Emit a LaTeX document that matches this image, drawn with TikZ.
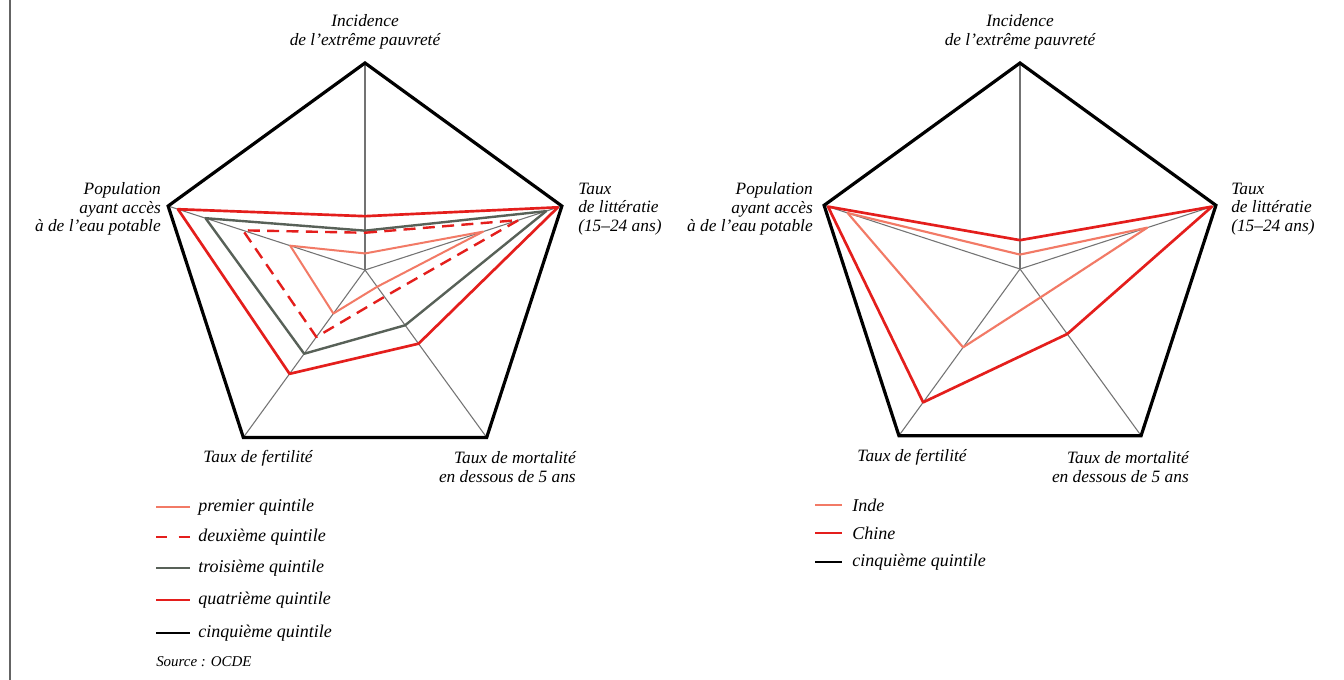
\documentclass[tikz,border=0pt]{standalone}
\usepackage{fontspec}
\setmainfont{Liberation Serif}
\usetikzlibrary{calc}
\definecolor{cred}{RGB}{228,30,28}
\definecolor{csalmon}{RGB}{242,122,102}
\definecolor{cgray}{RGB}{88,97,88}
\definecolor{caxis}{RGB}{115,115,115}
\definecolor{cframe}{RGB}{100,100,100}
\newcommand\radarset[8]{%
  \coordinate (#1A) at ($(#2)+(-90:{#3*#4})$);
  \coordinate (#1B) at ($(#2)+(-18:{#3*#5})$);
  \coordinate (#1C) at ($(#2)+(54:{#3*#6})$);
  \coordinate (#1D) at ($(#2)+(126:{#3*#7})$);
  \coordinate (#1E) at ($(#2)+(198:{#3*#8})$);
}
\newcommand\radarpoly[2]{\draw[#2] (#1A) -- (#1B) -- (#1C) -- (#1D) -- (#1E) -- cycle;}
\begin{document}
\begin{tikzpicture}[x=0.75pt,y=-0.75pt,
  lbl/.style={inner sep=0pt,font=\fontsize{13}{14}\selectfont\itshape},
  leg/.style={inner sep=0pt,anchor=west,font=\fontsize{13.5}{15}\selectfont\itshape},
  src/.style={inner sep=0pt,anchor=west,font=\fontsize{11.2}{12}\selectfont\itshape},
  axisline/.style={draw=caxis,line width=0.8pt},
  outer/.style={draw=black,line width=2.4pt,line join=miter},
  qone/.style={draw=csalmon,line width=1.5pt,line join=round},
  qtwo/.style={draw=cred,line width=1.8pt,dash pattern=on 9pt off 5.5pt,line join=round},
  qthree/.style={draw=cgray,line width=1.8pt,line join=round},
  qfour/.style={draw=cred,line width=2pt,line join=round},
  inde/.style={draw=csalmon,line width=1.6pt,line join=round},
  chine/.style={draw=cred,line width=2pt,line join=round},
  legtwo/.style={qtwo,dash pattern=on 8.5pt off 8.5pt},
]
\useasboundingbox (0,0) rectangle (1344,680);
\fill[white] (0,0) rectangle (1344,680);
% left frame line
\coordinate (ft) at (10,0);
\coordinate (fb) at (10,680);
\draw[cframe,line width=1.3pt] (ft) -- (fb);

% ---------- left chart ----------
\coordinate (L) at (365,270);
\radarset{LO}{L}{207}{1}{1}{1}{1}{1}
\foreach \v in {A,B,C,D,E} \draw[axisline] (L) -- (LO\v);
\radarset{LQa}{L}{207}{0.08}{0.60}{0.10}{0.26}{0.38}
\radarset{LQb}{L}{207}{0.18}{0.78}{0.16}{0.40}{0.62}
\radarset{LQc}{L}{207}{0.19}{0.92}{0.33}{0.50}{0.81}
\radarset{LQd}{L}{207}{0.26}{0.98}{0.44}{0.62}{0.95}
\radarpoly{LQc}{qthree}
\radarpoly{LQa}{qone}
\radarpoly{LQb}{qtwo}
\radarpoly{LQd}{qfour}
\radarpoly{LO}{outer}

\node[lbl,align=center] (lA) at (365,32) {Incidence\\de l'extrême pauvreté};
\node[lbl,align=left,anchor=west] (lB) at (578,209) {Taux\\de littératie\\(15--24 ans)};
\node[lbl,align=right,anchor=east] (lE) at (161,209) {Population\\ayant accès\\à de l'eau potable};
\node[lbl] (lD) at (258,458) {Taux de fertilité};
\node[lbl,align=right,anchor=east] (lC) at (576,467) {Taux de mortalité\\en dessous de 5 ans};

% left legend
\foreach \i/\y/\s/\t in {1/507/qone/premier quintile,2/537/legtwo/deuxième quintile,3/568/qthree/troisième quintile,4/600/qfour/quatrième quintile,5/633/outer/cinquième quintile}{
  \coordinate (lla\i) at (156,\y);
  \coordinate (llb\i) at (190,\y);
  \draw[\s,line width=1.8pt] (lla\i) -- (llb\i);
  \node[leg] (llt\i) at (198,\y) {\t};
}
\node[src] (source) at (156,662) {Source : OCDE};

% ---------- right chart ----------
\coordinate (R) at (1020,269);
\radarset{RO}{R}{206}{1}{1}{1}{1}{1}
\foreach \v in {A,B,C,D,E} \draw[axisline] (R) -- (RO\v);
\radarset{RI}{R}{206}{0.07}{0.65}{0.17}{0.47}{0.88}
\radarset{RC}{R}{206}{0.14}{0.98}{0.39}{0.80}{0.98}
\radarpoly{RI}{inde}
\radarpoly{RC}{chine}
\radarpoly{RO}{outer}

\node[lbl,align=center] (rA) at (1020,32) {Incidence\\de l'extrême pauvreté};
\node[lbl,align=left,anchor=west] (rB) at (1231,209) {Taux\\de littératie\\(15--24 ans)};
\node[lbl,align=right,anchor=east] (rE) at (813,209) {Population\\ayant accès\\à de l'eau potable};
\node[lbl] (rD) at (912,457) {Taux de fertilité};
\node[lbl,align=right,anchor=east] (rC) at (1189,467) {Taux de mortalité\\en dessous de 5 ans};

% right legend
\foreach \i/\y/\s/\t in {1/505/inde/Inde,2/533/chine/Chine,3/562/outer/cinquième quintile}{
  \coordinate (rla\i) at (815,\y);
  \coordinate (rlb\i) at (842,\y);
  \draw[\s,line width=1.8pt] (rla\i) -- (rlb\i);
  \node[leg] (rlt\i) at (852,\y) {\t};
}
\end{tikzpicture}
\end{document}
